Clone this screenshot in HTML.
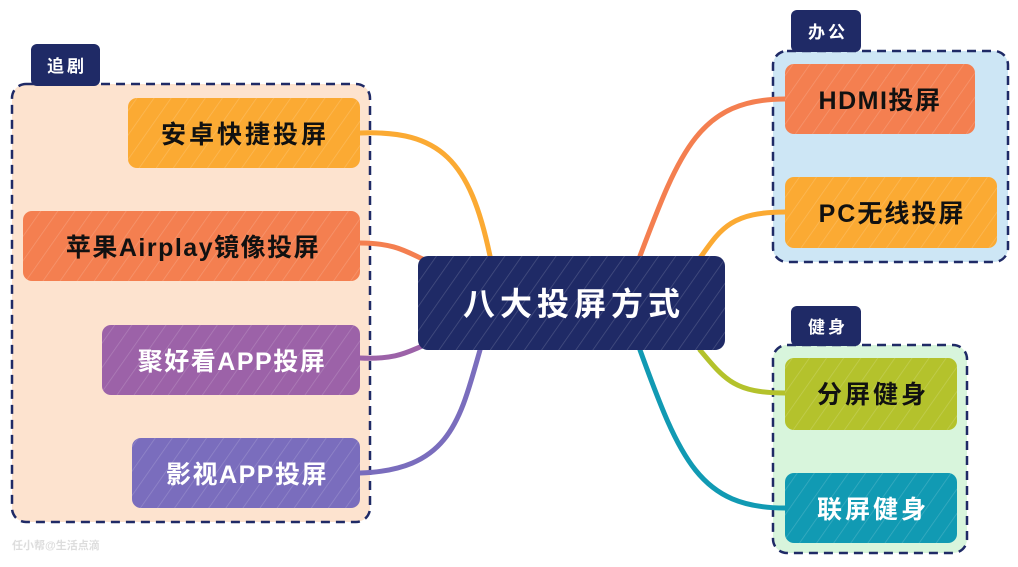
<!DOCTYPE html>
<html><head><meta charset="utf-8"><style>
html,body{margin:0;padding:0;background:#fff;}
svg{display:block;}
text{font-family:"Liberation Sans","Noto Sans CJK SC",sans-serif;font-weight:bold;}
.n{font-size:25px;letter-spacing:3px;}
.t{font-size:17px;letter-spacing:3px;}
</style></head><body>
<svg width="1018" height="567" viewBox="0 0 1018 567" xmlns="http://www.w3.org/2000/svg">
<defs>
<pattern id="h" width="14" height="14" patternUnits="userSpaceOnUse" patternTransform="rotate(35)">
<line x1="0" y1="0" x2="0" y2="14" stroke="#fff" stroke-opacity="0.18" stroke-width="1.5"/>
</pattern>
</defs>
<rect x="12" y="84" width="358" height="438" rx="14" fill="#fde3cf" stroke="#1f2a66" stroke-width="2.5" stroke-dasharray="9 6"/>
<rect x="31" y="44" width="69" height="42" rx="6" fill="#1f2a66"/>
<text x="67" y="72" class="t" fill="#fff" text-anchor="middle">追剧</text>

<rect x="773" y="51" width="235" height="211" rx="14" fill="#cde6f5" stroke="#1f2a66" stroke-width="2.5" stroke-dasharray="9 6"/>
<rect x="791" y="10" width="70" height="42" rx="6" fill="#1f2a66"/>
<text x="828" y="38" class="t" fill="#fff" text-anchor="middle">办公</text>

<rect x="773" y="345" width="194" height="208" rx="14" fill="#d8f5dc" stroke="#1f2a66" stroke-width="2.5" stroke-dasharray="9 6"/>
<rect x="791" y="306" width="70" height="40" rx="6" fill="#1f2a66"/>
<text x="828" y="333" class="t" fill="#fff" text-anchor="middle">健身</text>

<g fill="none" stroke-width="5" stroke-linecap="round">
<path d="M360 133 C440 130 470 160 490 256" stroke="#fbaa33"/>
<path d="M360 243 C400 243 410 255 430 262" stroke="#f47f50"/>
<path d="M360 358 C400 360 410 350 430 343" stroke="#9c62a8"/>
<path d="M360 473 C450 470 460 420 480 350" stroke="#7a6dbd"/>
<path d="M640 256 C680 150 700 99 785 99" stroke="#f47f50"/>
<path d="M700 258 C720 230 730 212 785 212" stroke="#fbaa33"/>
<path d="M700 350 C725 380 735 393 785 393" stroke="#b4c22c"/>
<path d="M640 350 C680 460 700 508 785 508" stroke="#119ab3"/>
</g>

<rect x="128" y="98" width="232" height="70" rx="9" fill="#fbaa33"/><rect x="128" y="98" width="232" height="70" rx="9" fill="url(#h)"/>
<text x="245" y="143" class="n" text-anchor="middle" fill="#111">安卓快捷投屏</text>
<rect x="23" y="211" width="337" height="70" rx="9" fill="#f47f50"/><rect x="23" y="211" width="337" height="70" rx="9" fill="url(#h)"/>
<text x="193" y="256" class="n" text-anchor="middle" fill="#111" style="letter-spacing:1.5px">苹果Airplay镜像投屏</text>
<rect x="102" y="325" width="258" height="70" rx="9" fill="#9c62a8"/><rect x="102" y="325" width="258" height="70" rx="9" fill="url(#h)"/>
<text x="232" y="370" class="n" text-anchor="middle" fill="#fff" style="letter-spacing:1.5px">聚好看APP投屏</text>
<rect x="132" y="438" width="228" height="70" rx="9" fill="#7a6dbd"/><rect x="132" y="438" width="228" height="70" rx="9" fill="url(#h)"/>
<text x="247" y="483" class="n" text-anchor="middle" fill="#fff" style="letter-spacing:1.5px">影视APP投屏</text>

<rect x="418" y="256" width="307" height="94" rx="10" fill="#1f2a66"/><rect x="418" y="256" width="307" height="94" rx="10" fill="url(#h)"/>
<text x="574" y="315" font-size="32" text-anchor="middle" fill="#fff" style="letter-spacing:5px">八大投屏方式</text>

<rect x="785" y="64" width="190" height="70" rx="9" fill="#f47f50"/><rect x="785" y="64" width="190" height="70" rx="9" fill="url(#h)"/>
<text x="880" y="109" class="n" text-anchor="middle" fill="#111" style="letter-spacing:1.5px">HDMI投屏</text>
<rect x="785" y="177" width="212" height="71" rx="9" fill="#fbaa33"/><rect x="785" y="177" width="212" height="71" rx="9" fill="url(#h)"/>
<text x="892" y="222" class="n" text-anchor="middle" fill="#111" style="letter-spacing:2px">PC无线投屏</text>
<rect x="785" y="358" width="172" height="72" rx="9" fill="#b4c22c"/><rect x="785" y="358" width="172" height="72" rx="9" fill="url(#h)"/>
<text x="873" y="403" class="n" text-anchor="middle" fill="#111">分屏健身</text>
<rect x="785" y="473" width="172" height="70" rx="9" fill="#119ab3"/><rect x="785" y="473" width="172" height="70" rx="9" fill="url(#h)"/>
<text x="873" y="518" class="n" text-anchor="middle" fill="#fff">联屏健身</text>

<text x="12" y="549" font-size="11" fill="#ddd" font-weight="normal">任小帮@生活点滴</text>
</svg>
</body></html>
